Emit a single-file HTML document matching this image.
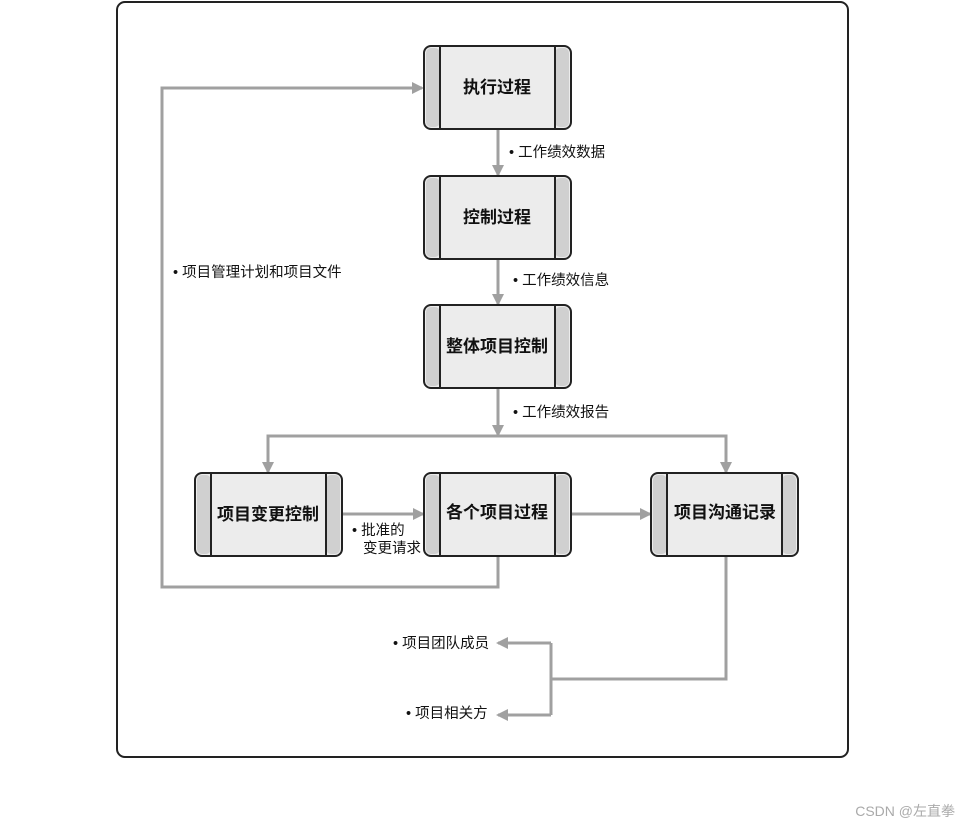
<!DOCTYPE html>
<html><head><meta charset="utf-8"><style>
body{margin:0;background:#fff}
svg text{font-family:"Liberation Sans","Noto Sans CJK SC",sans-serif;fill:#111}
</style></head><body>
<svg width="970" height="828" viewBox="0 0 970 828" xmlns="http://www.w3.org/2000/svg">
<defs>
<marker id="a" markerWidth="12" markerHeight="12" refX="10" refY="6" orient="auto" markerUnits="userSpaceOnUse"><path d="M0,0 L12,6 L0,12 Z" fill="#a0a0a0"/></marker>
<g id="box">
<rect x="0" y="0" width="147" height="83" rx="7" fill="#ececec" stroke="#222" stroke-width="2"/>
<rect x="2" y="2" width="14" height="79" rx="5" fill="#d0d0d0"/>
<rect x="131" y="2" width="14" height="79" rx="5" fill="#d0d0d0"/>
<line x1="16" y1="1" x2="16" y2="82" stroke="#222" stroke-width="2"/>
<line x1="131" y1="1" x2="131" y2="82" stroke="#222" stroke-width="2"/>
</g>
</defs>
<rect x="117" y="2" width="731" height="755" rx="8" fill="#fff" stroke="#222" stroke-width="2"/>
<g stroke="#a0a0a0" stroke-width="3" fill="none">
<line x1="498" y1="129" x2="498" y2="175" marker-end="url(#a)"/>
<line x1="498" y1="258" x2="498" y2="304" marker-end="url(#a)"/>
<line x1="498" y1="387" x2="498" y2="435" marker-end="url(#a)"/>
<polyline points="268,472 268,436 726,436 726,472" marker-end="url(#a)"/>
<path d="M268,436 L268,472" marker-end="url(#a)"/>
<line x1="342" y1="514" x2="423" y2="514" marker-end="url(#a)"/>
<line x1="571" y1="514" x2="650" y2="514" marker-end="url(#a)"/>
<polyline points="498,556 498,587 162,587 162,88 422,88" marker-end="url(#a)"/>
<polyline points="726,556 726,679 551,679"/>
<polyline points="551,643 551,715"/>
<line x1="551" y1="643" x2="498" y2="643" marker-end="url(#a)"/>
<line x1="551" y1="715" x2="498" y2="715" marker-end="url(#a)"/>
</g>
<use href="#box" x="424" y="46"/>
<use href="#box" x="424" y="176"/>
<use href="#box" x="424" y="305"/>
<use href="#box" x="195" y="473"/>
<use href="#box" x="424" y="473"/>
<use href="#box" x="651" y="473"/>
<g font-size="17" font-weight="bold" text-anchor="middle">
<text x="497" y="93">执行过程</text>
<text x="497" y="223">控制过程</text>
<text x="497" y="352">整体项目控制</text>
<text x="268" y="520">项目变更控制</text>
<text x="497" y="518">各个项目过程</text>
<text x="725" y="518">项目沟通记录</text>
</g>
<g font-size="14.5">
<text x="509" y="157">• 工作绩效数据</text>
<text x="513" y="285">• 工作绩效信息</text>
<text x="513" y="417">• 工作绩效报告</text>
<text x="173" y="277">• 项目管理计划和项目文件</text>
<text x="352" y="535">• 批准的</text>
<text x="363" y="553">变更请求</text>
<text x="393" y="648">• 项目团队成员</text>
<text x="406" y="718">• 项目相关方</text>
</g>
<text x="955" y="816" font-size="14" text-anchor="end" style="fill:#aaa">CSDN @左直拳</text>
</svg>
</body></html>
